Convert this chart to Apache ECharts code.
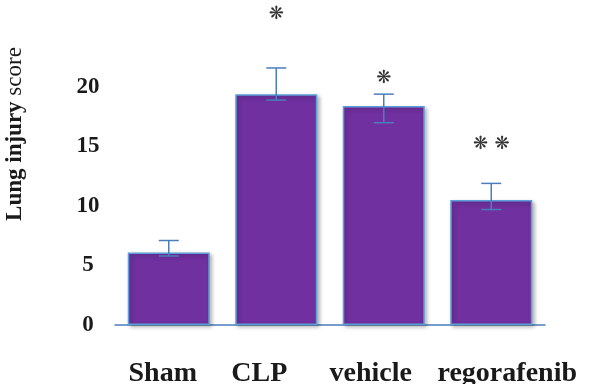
<!DOCTYPE html>
<html>
<head>
<meta charset="utf-8">
<script src="https://cdn.jsdelivr.net/npm/echarts@6/dist/echarts.min.js"></script>
<style>
html, body { margin: 0; padding: 0; background: #fff; }
#chart { width: 593px; height: 384px; }
</style>
</head>
<body>
<div id="chart"></div>
<script>
// groups and mean scores
var groups = ['Sham', 'CLP', 'vehicle', 'regorafenib'];
var scores = [6.1, 19.4, 18.4, 10.5];
// error bar ends (read off the picture, not symmetric)
var errLow = [5.8, 18.9, 17.0, 9.7];
var errHigh = [7.1, 21.6, 19.4, 11.9];
// significance marks and their heights
var marks = ['', '\u274B', '\u274B', '\u274B \u274B'];
var markY = [0, 26.1, 20.7, 15.2];
var yTicks = [0, 5, 10, 15, 20];

var serif = 'Liberation Serif';

function textWidth(font, txt) {
	var ctx = document.createElement('canvas').getContext('2d');
	ctx.font = font;
	return ctx.measureText(txt).width;
}

function initChart() {
	var myChart = echarts.init(document.getElementById('chart'));

	var errData = [];
	var markData = [];
	for (var i = 0; i < groups.length; i++) {
		errData.push([i, errLow[i], errHigh[i]]);
		if (marks[i]) {
			markData.push([i, markY[i], marks[i]]);
		}
	}

	// y title: bold "Lung injury" + plain "score", rotated, centred near y=134
	var w1 = textWidth('bold 23px "' + serif + '"', 'Lung injury ');
	var w2 = textWidth('23px "' + serif + '"', 'score');
	var titleStart = 134 + (w1 + w2) / 2;

	// the labels in the figure sit a little off the bar centres
	var lbl = { fontFamily: serif, fontWeight: 'bold', fontSize: 28, color: '#1a1a1a' };
	var lblRich = {
		l0: echarts.util.extend({ padding: [0, 12, 0, 0] }, lbl),
		l1: echarts.util.extend({ padding: [0, 34, 0, 0] }, lbl),
		l2: echarts.util.extend({ padding: [0, 26, 0, 0] }, lbl),
		l3: echarts.util.extend({ padding: [0, 0, 0, 32] }, lbl)
	};

	var option = {
		animation: false,
		grid: { left: 115, right: 48, top: 27.5, bottom: 59, outerBoundsMode: 'none' },
		xAxis: {
			type: 'category',
			data: groups,
			axisTick: { show: false },
			axisLine: { lineStyle: { color: '#4a7ebb', width: 1.5 } },
			axisLabel: {
				interval: 0,
				margin: 35,
				color: '#1a1a1a',
				fontFamily: serif,
				fontWeight: 'bold',
				fontSize: 28,
				formatter: function (v, idx) {
					return '{l' + idx + '|' + v + '}';
				},
				rich: lblRich
			}
		},
		yAxis: {
			type: 'value',
			min: 0,
			max: 25,
			interval: 5,
			splitLine: { show: false },
			axisLine: { show: false },
			axisTick: { show: false },
			axisLabel: {
				showMaxLabel: false,
				align: 'center',
				margin: 27,
				color: '#1a1a1a',
				fontFamily: serif,
				fontWeight: 'bold',
				fontSize: 23,
				formatter: function (v) {
					return yTicks.indexOf(v) >= 0 ? String(v) : '';
				}
			}
		},
		graphic: [
			{
				type: 'text',
				x: 15,
				y: titleStart,
				rotation: Math.PI / 2,
				style: {
					text: 'Lung injury',
					align: 'left',
					verticalAlign: 'middle',
					fill: '#1a1a1a',
					font: 'bold 23px "' + serif + '"'
				}
			},
			{
				type: 'text',
				x: 15,
				y: titleStart - w1,
				rotation: Math.PI / 2,
				style: {
					text: 'score',
					align: 'left',
					verticalAlign: 'middle',
					fill: '#1a1a1a',
					font: '23px "' + serif + '"'
				}
			}
		],
		series: [
			{
				type: 'bar',
				data: scores,
				barWidth: 82,
				itemStyle: {
					color: '#7030a0',
					borderColor: '#5b9fd6',
					borderWidth: 1.5,
					shadowColor: 'rgba(0,0,0,0.3)',
					shadowBlur: 4,
					shadowOffsetX: 2,
					shadowOffsetY: 2
				}
			},
			{
				type: 'custom',
				data: errData,
				clip: false,
				z: 5,
				renderItem: function (params, api) {
					var lo = api.coord([api.value(0), api.value(1)]);
					var hi = api.coord([api.value(0), api.value(2)]);
					var w = 10;
					var st = { stroke: '#4a7ebb', lineWidth: 1.5 };
					return {
						type: 'group',
						children: [
							{ type: 'line', shape: { x1: hi[0], y1: hi[1], x2: lo[0], y2: lo[1] }, style: st },
							{ type: 'line', shape: { x1: hi[0] - w, y1: hi[1], x2: hi[0] + w, y2: hi[1] }, style: st },
							{ type: 'line', shape: { x1: lo[0] - w, y1: lo[1], x2: lo[0] + w, y2: lo[1] }, style: st }
						]
					};
				}
			},
			{
				type: 'custom',
				data: markData,
				clip: false,
				z: 6,
				renderItem: function (params, api) {
					var p = api.coord([api.value(0), api.value(1)]);
					return {
						type: 'text',
						x: p[0],
						y: p[1],
						style: {
							text: markData[params.dataIndex][2],
							align: 'center',
							verticalAlign: 'middle',
							fill: '#333',
							fontFamily: 'DejaVu Sans',
							fontWeight: 'bold',
							fontSize: 18
						}
					};
				}
			}
		]
	};
	myChart.setOption(option);
}

initChart();
</script>
</body>
</html>
